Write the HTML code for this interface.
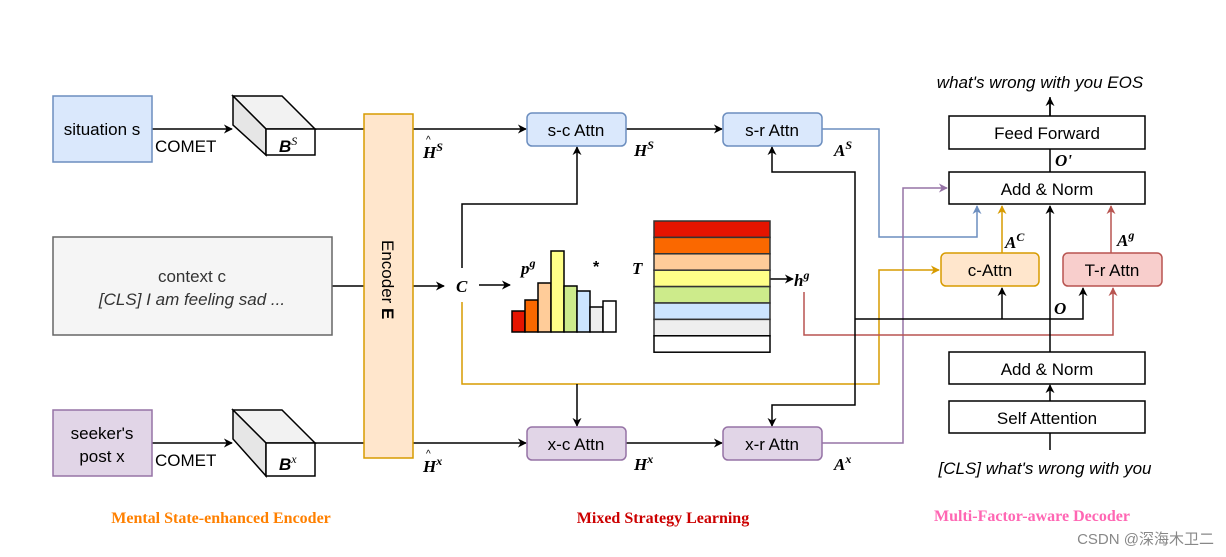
<!DOCTYPE html>
<html><head><meta charset="utf-8"><style>
body{margin:0;background:#fff}
svg{display:block}
.s{font-family:"Liberation Sans",sans-serif;font-size:17px;fill:#000}
.m{font-family:"Liberation Serif",serif;font-style:italic;font-weight:bold;font-size:17px}
.sup{font-family:"Liberation Serif",serif;font-style:italic;font-size:12px}
</style></head><body>
<svg width="1226" height="557" viewBox="0 0 1226 557" xmlns="http://www.w3.org/2000/svg">
<defs>
<marker id="a" viewBox="0 0 10 10" refX="9" refY="5" markerWidth="9" markerHeight="9" orient="auto" markerUnits="userSpaceOnUse"><path d="M0,0 L10,5 L0,10 L3,5z" fill="#000"/></marker>
<marker id="ao" viewBox="0 0 10 10" refX="9" refY="5" markerWidth="9" markerHeight="9" orient="auto" markerUnits="userSpaceOnUse"><path d="M0,0 L10,5 L0,10 L3,5z" fill="#d79b00"/></marker>
<marker id="ab" viewBox="0 0 10 10" refX="9" refY="5" markerWidth="9" markerHeight="9" orient="auto" markerUnits="userSpaceOnUse"><path d="M0,0 L10,5 L0,10 L3,5z" fill="#6c8ebf"/></marker>
<marker id="ar" viewBox="0 0 10 10" refX="9" refY="5" markerWidth="9" markerHeight="9" orient="auto" markerUnits="userSpaceOnUse"><path d="M0,0 L10,5 L0,10 L3,5z" fill="#b85450"/></marker>
<marker id="ap" viewBox="0 0 10 10" refX="9" refY="5" markerWidth="9" markerHeight="9" orient="auto" markerUnits="userSpaceOnUse"><path d="M0,0 L10,5 L0,10 L3,5z" fill="#9673a6"/></marker>
</defs>
<g fill="none" stroke-width="1.5">
<!-- colored connectors -->
<path d="M822,129 H879 V237 H977 V206" stroke="#6c8ebf" marker-end="url(#ab)"/>
<path d="M462,302 V384 H879 V270 H939" stroke="#d79b00" marker-end="url(#ao)"/>
<path d="M577,384 V426" stroke="#000" marker-end="url(#a)"/>
<path d="M822,443 H903 V188 H947" stroke="#9673a6" marker-end="url(#ap)"/>
<path d="M804,292 V335 H1113 V288" stroke="#b85450" marker-end="url(#ar)"/>
<path d="M1002,253 V206" stroke="#d79b00" marker-end="url(#ao)"/>
<path d="M1111,253 V206" stroke="#b85450" marker-end="url(#ar)"/>
<!-- black connectors -->
<path d="M152,129 H232" stroke="#000" marker-end="url(#a)"/>
<path d="M152,443 H232" stroke="#000" marker-end="url(#a)"/>
<path d="M315,129 H364 M315,443 H364 M332,286 H364" stroke="#000"/>
<path d="M413,129 H526" stroke="#000" marker-end="url(#a)"/>
<path d="M413,443 H526" stroke="#000" marker-end="url(#a)"/>
<path d="M413,286 H444" stroke="#000" marker-end="url(#a)"/>
<path d="M479,285 H510" stroke="#000" marker-end="url(#a)"/>
<path d="M462,268 V204 H577 V147" stroke="#000" marker-end="url(#a)"/>
<path d="M626,129 H722" stroke="#000" marker-end="url(#a)"/>
<path d="M626,443 H722" stroke="#000" marker-end="url(#a)"/>
<path d="M855,319 V172 H772 V147" stroke="#000" marker-end="url(#a)"/>
<path d="M855,319 V405 H772 V426" stroke="#000" marker-end="url(#a)"/>
<path d="M770,279 H793" stroke="#000" marker-end="url(#a)"/>
<path d="M855,319 H1083 V288" stroke="#000" marker-end="url(#a)"/>
<path d="M1002,319 V288" stroke="#000" marker-end="url(#a)"/>
<path d="M1050,352 V206" stroke="#000" marker-end="url(#a)"/>
<path d="M1050,172 V149 M1050,116 V97" stroke="#000"/>
<path d="M1050,116 V98" stroke="#000" marker-end="url(#a)"/>
<path d="M1050,401 V385" stroke="#000" marker-end="url(#a)"/>
<path d="M1050,433 V450" stroke="#000"/>
</g>
<!-- input boxes -->
<rect x="53" y="96" width="99" height="66" fill="#dae8fc" stroke="#6c8ebf" stroke-width="1.5"/>
<text class="s" x="102" y="135" text-anchor="middle">situation s</text>
<rect x="53" y="237" width="279" height="98" fill="#f5f5f5" stroke="#666" stroke-width="1.5"/>
<text class="s" x="192" y="282" text-anchor="middle" fill="#333" style="fill:#333">context c</text>
<text class="s" x="192" y="305" text-anchor="middle" font-style="italic" style="fill:#333">[CLS] I am feeling sad ...</text>
<rect x="53" y="410" width="99" height="66" fill="#e1d5e7" stroke="#9673a6" stroke-width="1.5"/>
<text class="s" x="102" y="439" text-anchor="middle">seeker's</text>
<text class="s" x="102" y="462" text-anchor="middle">post x</text>
<text class="s" x="155" y="152">COMET</text>
<text class="s" x="155" y="466">COMET</text>
<!-- cubes -->
<g stroke="#000" stroke-width="1.5">
<path d="M233,96 H282 L315,129 H266z" fill="#f2f2f2"/>
<path d="M233,96 L266,129 V155 L233,125z" fill="#e6e6e6"/>
<rect x="266" y="129" width="49" height="26" fill="#fff"/>
<path d="M233,410 H282 L315,443 H266z" fill="#f2f2f2"/>
<path d="M233,410 L266,443 V476 L233,439z" fill="#e6e6e6"/>
<rect x="266" y="443" width="49" height="33" fill="#fff"/>
</g>
<text x="279" y="152" font-family="Liberation Sans" font-weight="bold" font-style="italic" font-size="17">B<tspan class="sup" font-weight="normal" dy="-7">S</tspan></text>
<text x="279" y="470" font-family="Liberation Sans" font-weight="bold" font-style="italic" font-size="17">B<tspan class="sup" font-weight="normal" dy="-7">x</tspan></text>
<!-- encoder -->
<rect x="364" y="114" width="49" height="344" fill="#ffe6cc" stroke="#d79b00" stroke-width="1.5"/>
<text class="s" transform="translate(382,240) rotate(90)">Encoder <tspan font-weight="bold">E</tspan></text>
<text class="m" x="423" y="158">H<tspan class="sup" dy="-7">S</tspan></text>
<text x="426" y="143" font-size="10" font-family="Liberation Sans">^</text>
<text class="m" x="423" y="472">H<tspan class="sup" dy="-7">x</tspan></text>
<text x="426" y="457" font-size="10" font-family="Liberation Sans">^</text>
<text class="m" x="456" y="292">C</text>
<!-- attn boxes -->
<g stroke-width="1.5">
<rect x="527" y="113" width="99" height="33" rx="5" fill="#dae8fc" stroke="#6c8ebf"/>
<rect x="723" y="113" width="99" height="33" rx="5" fill="#dae8fc" stroke="#6c8ebf"/>
<rect x="527" y="427" width="99" height="33" rx="5" fill="#e1d5e7" stroke="#9673a6"/>
<rect x="723" y="427" width="99" height="33" rx="5" fill="#e1d5e7" stroke="#9673a6"/>
</g>
<text class="s" x="576" y="136" text-anchor="middle">s-c Attn</text>
<text class="s" x="772" y="136" text-anchor="middle">s-r Attn</text>
<text class="s" x="576" y="450" text-anchor="middle">x-c Attn</text>
<text class="s" x="772" y="450" text-anchor="middle">x-r Attn</text>
<text class="m" x="634" y="156">H<tspan class="sup" dy="-7">S</tspan></text>
<text class="m" x="834" y="156">A<tspan class="sup" dy="-7">S</tspan></text>
<text class="m" x="634" y="470">H<tspan class="sup" dy="-7">x</tspan></text>
<text class="m" x="834" y="470">A<tspan class="sup" dy="-7">x</tspan></text>
<!-- histogram -->
<g stroke="#000" stroke-width="1.5">
<rect x="512" y="311" width="13" height="21" fill="#e51400"/>
<rect x="525" y="300" width="13" height="32" fill="#fa6800"/>
<rect x="538" y="283" width="13" height="49" fill="#ffcc99"/>
<rect x="551" y="251" width="13" height="81" fill="#ffff88"/>
<rect x="564" y="286" width="13" height="46" fill="#cdeb8b"/>
<rect x="577" y="291" width="13" height="41" fill="#cce5ff"/>
<rect x="590" y="307" width="13" height="25" fill="#eeeeee"/>
<rect x="603" y="301" width="13" height="31" fill="#ffffff"/>
</g>
<text class="m" x="521" y="274">p<tspan class="sup" dy="-7">g</tspan></text>
<text x="593" y="272" font-family="Liberation Sans" font-weight="bold" font-size="16">*</text>
<text class="m" x="632" y="274">T</text>
<!-- T matrix -->
<g stroke="#333" stroke-width="1.5">
<rect x="654" y="221" width="116" height="16.4" fill="#e51400"/>
<rect x="654" y="237.4" width="116" height="16.4" fill="#fa6800"/>
<rect x="654" y="253.8" width="116" height="16.4" fill="#ffcc99"/>
<rect x="654" y="270.2" width="116" height="16.4" fill="#ffff88"/>
<rect x="654" y="286.6" width="116" height="16.4" fill="#cdeb8b"/>
<rect x="654" y="303" width="116" height="16.4" fill="#cce5ff"/>
<rect x="654" y="319.4" width="116" height="16.4" fill="#eeeeee"/>
<rect x="654" y="335.8" width="116" height="16.4" fill="#ffffff" stroke="#000"/>
</g>
<text class="m" x="794" y="286">h<tspan class="sup" dy="-7">g</tspan></text>
<!-- decoder -->
<g stroke="#000" stroke-width="1.5" fill="#fff">
<rect x="949" y="116" width="196" height="33"/>
<rect x="949" y="172" width="196" height="32"/>
<rect x="949" y="352" width="196" height="32"/>
<rect x="949" y="401" width="196" height="32"/>
</g>
<rect x="941" y="253" width="98" height="33" rx="5" fill="#ffe6cc" stroke="#d79b00" stroke-width="1.5"/>
<rect x="1063" y="253" width="99" height="33" rx="5" fill="#f8cecc" stroke="#b85450" stroke-width="1.5"/>
<text class="s" x="1047" y="139" text-anchor="middle">Feed Forward</text>
<text class="s" x="1047" y="195" text-anchor="middle">Add &amp; Norm</text>
<text class="s" x="990" y="276" text-anchor="middle">c-Attn</text>
<text class="s" x="1112" y="276" text-anchor="middle">T-r Attn</text>
<text class="s" x="1047" y="375" text-anchor="middle">Add &amp; Norm</text>
<text class="s" x="1047" y="424" text-anchor="middle">Self Attention</text>
<text class="s" x="1040" y="88" text-anchor="middle" font-style="italic">what's wrong with you EOS</text>
<text class="s" x="1045" y="474" text-anchor="middle" font-style="italic">[CLS] what's wrong with you</text>
<text class="m" x="1055" y="166">O'</text>
<text class="m" x="1054" y="314">O</text>
<text class="m" x="1005" y="248">A<tspan class="sup" dy="-7">C</tspan></text>
<text class="m" x="1117" y="246">A<tspan class="sup" dy="-7">g</tspan></text>
<!-- captions -->
<text x="221" y="523" text-anchor="middle" font-family="Liberation Serif" font-weight="bold" font-size="16" fill="#ff8000">Mental State-enhanced Encoder</text>
<text x="663" y="523" text-anchor="middle" font-family="Liberation Serif" font-weight="bold" font-size="16" fill="#cc0000">Mixed Strategy Learning</text>
<text x="1032" y="521" text-anchor="middle" font-family="Liberation Serif" font-weight="bold" font-size="16" fill="#ff66b3">Multi-Factor-aware Decoder</text>
<text x="1214" y="544" text-anchor="end" font-family="Liberation Sans, Noto Sans CJK SC, sans-serif" font-size="15" fill="#888">CSDN @深海木卫二</text>
</svg>
</body></html>
